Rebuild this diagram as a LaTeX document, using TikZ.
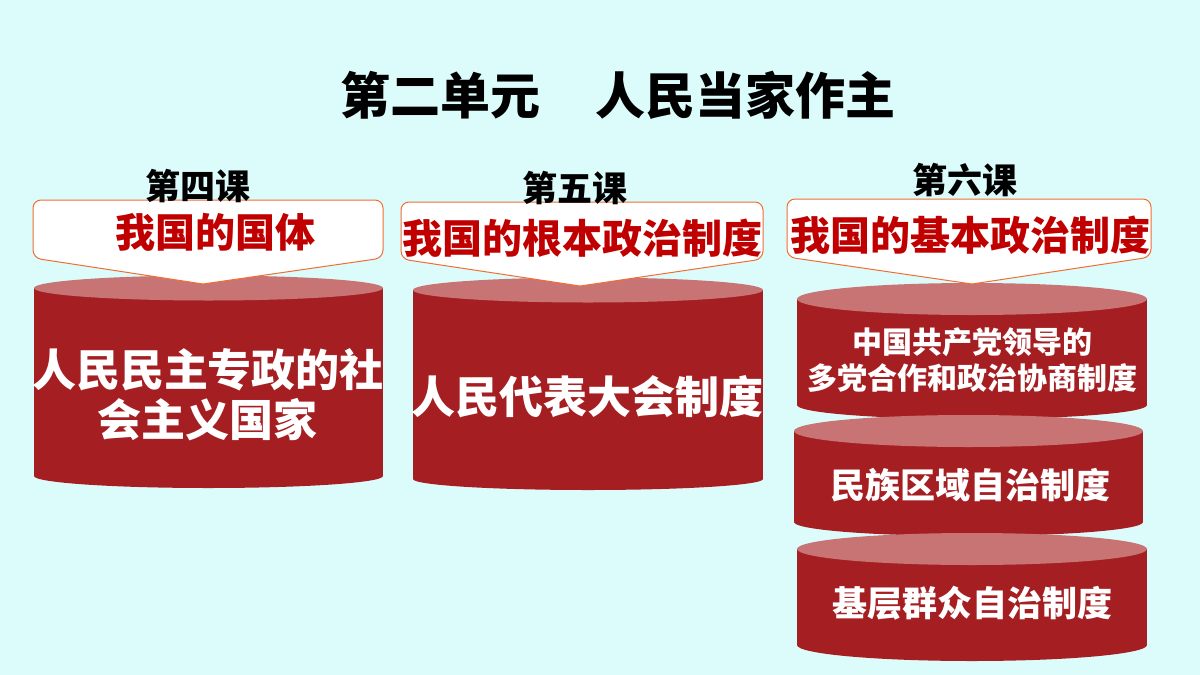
\documentclass[tikz,border=0pt]{standalone}
\usepackage{fontspec}
\setmainfont{Noto Sans CJK SC}
\definecolor{bg}{RGB}{220,252,252}
\definecolor{cylred}{RGB}{165,31,34}
\definecolor{lidred}{RGB}{200,116,116}
\definecolor{calloutline}{RGB}{240,110,50}
\definecolor{titlered}{RGB}{192,0,0}
\newcommand\drawcyl[6]{%
  \fill[body] (#1,#3) rectangle (#2,#5);
  \fill[body] ({(#1+#2)/2},#5) ellipse [x radius={(#2-#1)/2}, y radius=#6];
  \fill[lid] ({(#1+#2)/2},#3) ellipse [x radius={(#2-#1)/2}, y radius=#4];
}
\newcommand\drawcallout[6]{%
  \filldraw[callout] (#5,#6) -- (#1,#4) -- (#1,#3) -- (#2,#3) -- (#2,#4) -- (#5,#6);
}
\begin{document}
\begin{tikzpicture}[x=1pt,y=-1pt,
  body/.style={fill=cylred},
  lid/.style={fill=lidred},
  callout/.style={draw=calloutline, line width=1pt, fill=white, rounded corners=8pt},
  cyltext/.style={text=white, font=\bfseries\fontsize{44}{50}\selectfont, align=center, inner sep=0pt},
  stacktext/.style={text=white, font=\bfseries\fontsize{35}{40}\selectfont, align=center, inner sep=0pt},
  smalltext/.style={text=white, font=\bfseries\fontsize{30}{36}\selectfont, align=center, inner sep=0pt},
  headtext/.style={text=titlered, font=\bfseries\fontsize{40}{44}\selectfont, inner sep=0pt},
  lesson/.style={text=black, font=\bfseries\fontsize{35}{40}\selectfont, inner sep=0pt},
  title/.style={text=black, font=\bfseries\fontsize{50}{56}\selectfont, inner sep=0pt}]
\useasboundingbox (0,0) rectangle (1200,675);
\fill[bg] (0,0) rectangle (1200,675);

% title
\node[title] (title) at (618,95) {第二单元\hspace{1.1em}人民当家作主};

% cylinders
\drawcyl{34}{383}{288}{12.5}{476}{12}
\drawcyl{413}{763}{290}{12.5}{479}{11}
\drawcyl{797}{1147}{299}{16}{405}{14}
\drawcyl{794}{1143}{431}{16}{522}{14}
\drawcyl{797}{1147}{549}{16}{645}{16}

% callouts
\drawcallout{33}{383}{200}{258}{203}{284}
\drawcallout{401}{763}{202}{259}{580}{286}
\drawcallout{787}{1151}{199}{257}{972}{284}

% lesson labels
\node[lesson] (l4) at (198,186) {第四课};
\node[lesson] (l5) at (575,188) {第五课};
\node[lesson] (l6) at (965,180) {第六课};

% callout texts
\node[headtext] (h4) at (215,232) {我国的国体};
\node[headtext] (h5) at (582,238) {我国的根本政治制度};
\node[headtext] (h6) at (970,235) {我国的基本政治制度};

% cylinder texts
\node[cyltext] (c4) at (208,395) {人民民主专政的社\\会主义国家};
\node[cyltext] (c5) at (587,397) {人民代表大会制度};
\node[smalltext] (s1) at (972,360) {中国共产党领导的\\多党合作和政治协商制度};
\node[stacktext] (s2) at (970,485) {民族区域自治制度};
\node[stacktext] (s3) at (972,603) {基层群众自治制度};
\end{tikzpicture}
\end{document}
